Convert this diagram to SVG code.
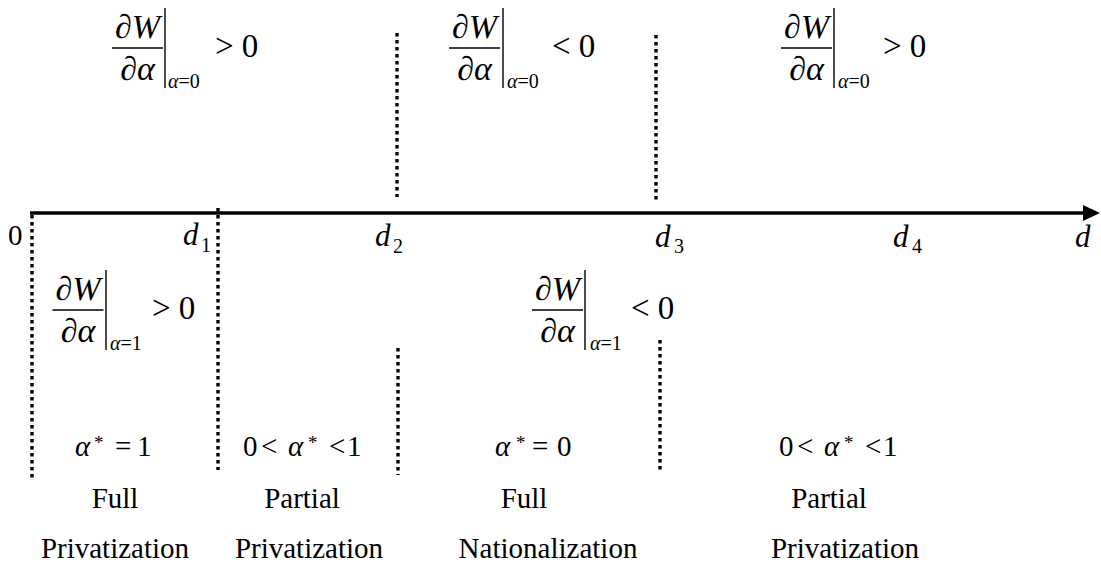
<svg xmlns="http://www.w3.org/2000/svg" width="1101" height="571" viewBox="0 0 1101 571">
<style>
text{font-family:"Liberation Serif","Times New Roman",serif;fill:#000}
.m{font-size:33px}
.i{font-style:italic}
.sub{font-size:20px}
.lab{font-size:29px}
.dl{font-size:31px;font-style:italic}
.ast{font-size:19px}
.txt{font-size:29px;text-anchor:middle}
.frac{text-anchor:middle;font-size:34px}
.bar{stroke:#000;stroke-width:1.4}
.dot{stroke:#000;stroke-width:3.4;stroke-dasharray:3.5 3.5;fill:none}
</style>
<defs>
<g id="fr">
<text class="frac" x="0" y="-10">∂<tspan class="i">W</tspan></text>
<line class="bar" x1="-25.5" y1="0" x2="25.5" y2="0"/>
<text class="frac" x="0" y="32">∂<tspan class="i">α</tspan></text>
</g>
</defs>
<g id="connectors">
<line x1="30" y1="213" x2="1085" y2="213" stroke="#000" stroke-width="3.6"/>
<polygon points="1083,205 1100,213 1083,221" fill="#000"/>
<line class="dot" x1="32" y1="215" x2="32" y2="480"/>
<line class="dot" x1="218" y1="208" x2="218" y2="470"/>
<line class="dot" x1="397" y1="33" x2="397" y2="197"/>
<line class="dot" x1="398" y1="348" x2="398" y2="475"/>
<line class="dot" x1="656" y1="35" x2="656" y2="201"/>
<line class="dot" x1="660" y1="340" x2="660" y2="472"/>
</g>
<g id="axis-labels">
<text class="lab" x="8" y="245">0</text>
<text class="dl" x="183" y="245">d</text><text class="sub" x="201" y="252">1</text>
<text class="dl" x="375" y="246">d</text><text class="sub" x="393" y="253">2</text>
<text class="dl" x="655" y="247">d</text><text class="sub" x="674" y="253">3</text>
<text class="dl" x="893" y="247">d</text><text class="sub" x="912" y="253">4</text>
<text class="dl" x="1075" y="247">d</text>
</g>
<g id="cond-top-left">
<use href="#fr" x="137.5" y="48"/>
<line class="bar" x1="165" y1="8" x2="165" y2="88"/>
<text class="sub" x="168" y="88"><tspan class="i">α</tspan>=0</text>
<text class="m" x="215" y="57">&gt; 0</text>
</g>
<g id="cond-top-middle">
<use href="#fr" x="474.5" y="48"/>
<line class="bar" x1="503" y1="8" x2="503" y2="88"/>
<text class="sub" x="507" y="88"><tspan class="i">α</tspan>=0</text>
<text class="m" x="552" y="57">&lt; 0</text>
</g>
<g id="cond-top-right">
<use href="#fr" x="806.5" y="48"/>
<line class="bar" x1="834" y1="8" x2="834" y2="88"/>
<text class="sub" x="838" y="88"><tspan class="i">α</tspan>=0</text>
<text class="m" x="883" y="57">&gt; 0</text>
</g>
<g id="cond-bottom-left">
<use href="#fr" x="78" y="310"/>
<line class="bar" x1="106" y1="270" x2="106" y2="350"/>
<text class="sub" x="110" y="350"><tspan class="i">α</tspan>=1</text>
<text class="m" x="152" y="319">&gt; 0</text>
</g>
<g id="cond-bottom-middle">
<use href="#fr" x="557.5" y="310"/>
<line class="bar" x1="585" y1="270" x2="585" y2="350"/>
<text class="sub" x="590" y="350"><tspan class="i">α</tspan>=1</text>
<text class="m" x="631" y="319">&lt; 0</text>
</g>
<g id="region-1">
<text class="lab i" x="75" y="456">α</text><text class="ast" x="94" y="449">*</text>
<text class="lab" x="115" y="456">=</text><text class="lab" x="137" y="456">1</text>
<text class="txt" x="115" y="508">Full</text>
<text class="txt" x="115" y="558">Privatization</text>
</g>
<g id="region-2">
<text class="lab" x="243" y="456">0</text><text class="lab" x="261" y="456">&lt;</text>
<text class="lab i" x="288" y="456">α</text><text class="ast" x="308" y="449">*</text>
<text class="lab" x="329" y="456">&lt;</text><text class="lab" x="347" y="456">1</text>
<text class="txt" x="302" y="508">Partial</text>
<text class="txt" x="309" y="558">Privatization</text>
</g>
<g id="region-3">
<text class="lab i" x="495" y="456">α</text><text class="ast" x="516" y="449">*</text>
<text class="lab" x="532" y="456">=</text><text class="lab" x="557" y="456">0</text>
<text class="txt" x="524" y="508">Full</text>
<text class="txt" x="548" y="558">Nationalization</text>
</g>
<g id="region-4">
<text class="lab" x="779" y="456">0</text><text class="lab" x="797" y="456">&lt;</text>
<text class="lab i" x="824" y="456">α</text><text class="ast" x="844" y="449">*</text>
<text class="lab" x="865" y="456">&lt;</text><text class="lab" x="883" y="456">1</text>
<text class="txt" x="829" y="508">Partial</text>
<text class="txt" x="845" y="558">Privatization</text>
</g>
</svg>
